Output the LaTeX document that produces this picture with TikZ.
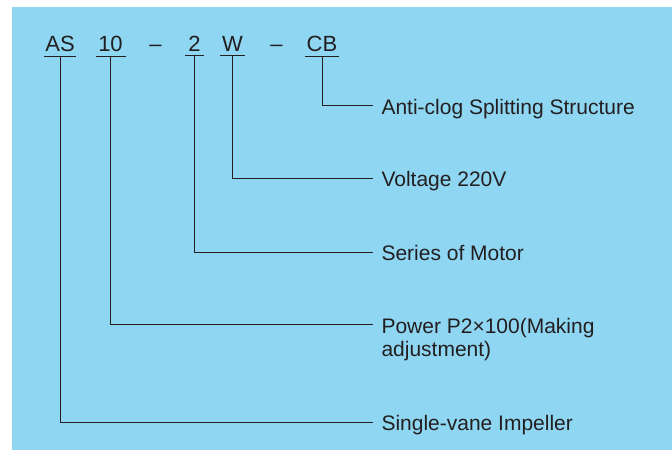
\documentclass[tikz,border=0pt]{standalone}
\usepackage{fontspec}
\setmainfont{Liberation Sans}
\usetikzlibrary{positioning}
\definecolor{panelblue}{RGB}{142,214,242}
\definecolor{inkgray}{RGB}{35,31,32}

\begin{document}
\begin{tikzpicture}[x=0.75pt, y=-0.75pt, line width=0.75pt,
  code/.style={anchor=base, inner xsep=0pt, inner ysep=2.6pt, text=inkgray,
    font=\fontsize{16.5}{19}\selectfont},
  desc/.style={anchor=base west, inner sep=0pt, text=inkgray, align=left,
    font=\fontsize{15.75}{17.5}\selectfont},
  lead/.style={draw=inkgray}]
  \useasboundingbox (0,0) rectangle (672,452);
  \fill[panelblue] (12,7) rectangle (672,450);

  % model code
  \node[code, minimum width=23.25pt] (as) at (60,52) {AS};
  \node[code, minimum width=21.75pt] (ten) at (110.5,52) {10};
  \node[code] (dasha) at (155.5,52) {--};
  \node[code, minimum width=13.5pt] (two) at (194.5,52) {2};
  \node[code, minimum width=18pt] (w) at (232.5,52) {W};
  \node[code] (dashb) at (276.5,52) {--};
  \node[code, minimum width=24.75pt] (cb) at (322,52) {CB};
  \foreach \n in {as,ten,two,w,cb}
    \draw[lead] (\n.south west) -- (\n.south east);

  % meanings
  \node[desc] (d-cb) at (381,114.3) {Anti-clog Splitting Structure};
  \node[desc] (d-w) at (381,186.3) {Voltage 220V};
  \node[desc] (d-two) at (381,260.7) {Series of Motor};
  \node[desc] (d-ten) at (381,356.7) {Power P2×100(Making\\adjustment)};
  \node[desc] (d-as) at (381,430.7) {Single-vane Impeller};

  % leaders
  \draw[lead] (cb.south) |- ([shift={(-8.5,-8.3)}]d-cb.base west);
  \draw[lead] (w.south) |- ([shift={(-8.5,-8)}]d-w.base west);
  \draw[lead] (two.south) |- ([shift={(-8.5,-8)}]d-two.base west);
  \draw[lead] (ten.south) |- ([shift={(-8.5,-32.4)}]d-ten.base west);
  \draw[lead] (as.south) |- ([shift={(-8.5,-8)}]d-as.base west);
\end{tikzpicture}
\end{document}
